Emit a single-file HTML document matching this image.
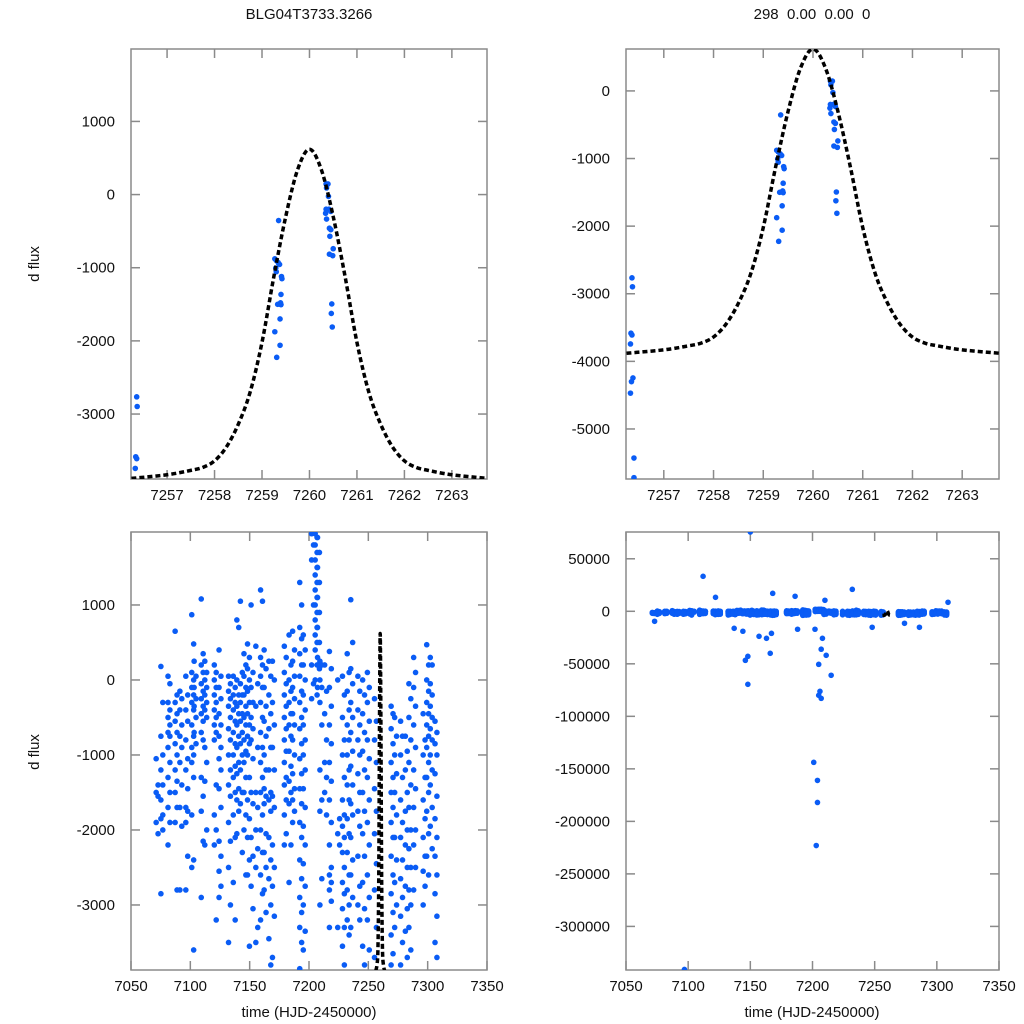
<!DOCTYPE html>
<html><head><meta charset="utf-8"><style>
html,body{margin:0;padding:0;background:#fff;width:1024px;height:1024px;overflow:hidden}
svg{display:block}
svg text{font-family:"Liberation Sans",Arial,sans-serif;font-size:15px;fill:#111}
</style></head><body>
<svg id="chart" width="1024" height="1024" viewBox="0 0 1024 1024" xmlns="http://www.w3.org/2000/svg">
<text x="309" y="19" text-anchor="middle">BLG04T3733.3266</text>
<text x="812" y="19" text-anchor="middle" xml:space="preserve">298  0.00  0.00  0</text>
<text transform="translate(39,264) rotate(-90)" text-anchor="middle">d flux</text>
<text transform="translate(39,752) rotate(-90)" text-anchor="middle">d flux</text>
<text x="309" y="1017" text-anchor="middle">time (HJD-2450000)</text>
<text x="812" y="1017" text-anchor="middle">time (HJD-2450000)</text>
</svg>
<script>
// ---- data ----
const modelDt = [-3.75,-3,-2.5,-2.25,-2,-1.75,-1.5,-1.25,-1,-0.75,-0.5,-0.25,0,0.25,0.5,0.75,1,1.25,1.5,1.75,2,2.25,2.5,3,3.75];
const modelFlux = [-3880,-3830,-3770,-3730,-3640,-3450,-3140,-2700,-2020,-1120,-300,340,620,340,-300,-1120,-2020,-2700,-3140,-3450,-3640,-3730,-3770,-3830,-3880];
const modelT0 = 7260;
const zoomT = [7256.36,7256.37,7256.34,7256.33,7256.35,7256.33,7256.38,7256.36,7256.4,7256.4,
 7259.35,7259.27,7259.30,7259.34,7259.37,7259.29,7259.30,7259.41,7259.42,7259.40,7259.33,7259.39,7259.40,7259.38,7259.27,7259.38,7259.31,
 7260.35,7260.39,7260.36,7260.40,7260.35,7260.41,7260.34,7260.45,7260.36,7260.42,7260.45,7260.43,7260.50,7260.42,7260.49,7260.47,7260.46,7260.48];
const zoomFlux = [-2765,-2897,-3584,-3743,-4300,-4470,-4245,-3610,-5430,-5720,
 -355,-878,-900,-930,-955,-1005,-1055,-1120,-1150,-1365,-1500,-1480,-1505,-1700,-1875,-2060,-2225,
 145,145,90,-25,-200,-200,-255,-230,-335,-460,-480,-570,-740,-815,-835,-1495,-1625,-1810];
const colTimes = [7072,7076,7082,7088,7092,7097,7102,7104,7110,7113,7121,7125,7133,7137,7140,7143,7146,7149,7152,7156,7160,7163,7167,7170,7180,7184,7187,7193,7196,7203,7206,7208,7210,7214,7218,7225,7229,7233,7236,7242,7246,7250,7256,7270,7273,7278,7282,7285,7289,7297,7300,7303,7307];
const colFluxK = [
[-1.05,-1.4,-1.5,-1.55,-1.9,-2.05],
[0.18,-0.3,-0.75,-1.0,-1.2,-1.4,-1.6,-1.8,-1.85,-2.0,-2.85],
[0.05,-0.05,-0.3,-0.4,-0.5,-0.6,-0.7,-0.75,-0.9,-1.1,-1.3,-1.5,-1.7,-1.9,-2.2],
[0.65,-0.2,-0.3,-0.45,-0.55,-0.7,-0.85,-1.0,-1.2,-1.35,-1.5,-1.7,-1.9,-2.8],
[-0.15,-0.25,-0.4,-0.6,-0.75,-0.9,-1.1,-1.4,-1.7,-1.95,-2.8],
[0.05,-0.2,-0.4,-0.55,-0.8,-1.05,-1.2,-1.45,-1.7,-1.75,-1.9,-2.35,-2.8],
[0.87,0.48,0.1,0,-0.1,-0.2,-0.3,-0.4,-0.6,-0.75,-0.9,-1.0,-1.1,-1.3,-1.8,-2.4,-2.5,-3.6],
[0.25,0.05,-0.1,-0.25,-0.35,-0.5,-0.7,-0.85],
[1.08,0.35,0.2,0.1,-0.05,-0.15,-0.25,-0.35,-0.45,-0.55,-0.7,-0.8,-1.3,-1.55,-1.75,-2.15,-2.9],
[0.25,0.1,0,-0.1,-0.2,-0.3,-0.4,-0.5,-0.9,-1.1,-1.35,-2.0,-2.2],
[0.2,0.1,0,-0.1,-0.2,-0.3,-0.4,-0.5,-0.6,-0.7,-0.8,-1.4,-1.8,-2.0,-2.2,-3.2],
[0.4,0.05,-0.1,-0.25,-0.45,-0.6,-0.75,-0.9,-1.05,-1.2,-1.45,-1.7,-2.15,-2.35,-2.55,-2.75,-2.9],
[0.05,-0.05,-0.15,-0.25,-0.35,-0.5,-0.65,-0.8,-1.0,-1.2,-1.4,-1.55,-1.9,-2.15,-2.5,-3.0,-3.5],
[0.05,-0.1,-0.2,-0.3,-0.4,-0.55,-0.7,-0.85,-1.0,-1.15,-1.3,-1.5,-1.8,-2.1,-2.7,-3.2],
[0.8,0.7,0,-0.2,-0.35,-0.45,-0.6,-0.75,-0.9,-1.1,-1.25,-1.45,-1.6,-1.75,-2.05],
[1.05,0.1,-0.05,-0.2,-0.3,-0.45,-0.55,-0.7,-0.85,-1.0,-1.2,-1.5,-1.65,-2.3],
[0.35,0.2,0.05,-0.1,-0.2,-0.35,-0.5,-0.6,-0.8,-0.95,-1.1,-1.3,-1.5,-1.8,-2.0,-2.6],
[0.48,0.3,0.15,0,-0.15,-0.3,-0.45,-0.6,-0.75,-0.85,-1.0,-1.3,-1.6,-1.85,-2.1,-2.4,-2.6,-3.55],
[1.0,0.1,-0.1,-0.3,-0.5,-0.65,-0.8,-1.05,-1.5,-1.65,-2.1,-2.35,-2.75,-3.05],
[0.45,-0.05,-0.35,-0.9,-1.5,-1.7,-2.0,-2.25,-2.5,-3.3,-3.5],
[1.2,1.05,0.3,0.2,0.05,-0.1,-0.3,-0.5,-0.7,-0.9,-1.1,-1.3,-1.5,-1.8,-2.0,-2.3,-2.6,-2.85,-3.2],
[0.4,0.15,-0.1,-0.35,-0.55,-0.75,-1.0,-1.2,-1.45,-1.55,-1.65,-2.05,-2.3,-2.5,-2.8,-3.1],
[0.25,0.05,-0.2,-0.45,-0.65,-0.9,-1.2,-1.5,-1.6,-1.75,-2.1,-2.4,-2.65,-3.0,-3.45,-3.8],
[0.25,0.0,-0.3,-0.6,-0.9,-1.2,-1.55,-1.7,-2.2,-2.5,-2.75,-3.15,-3.7],
[0.45,0.3,0.1,-0.05,-0.2,-0.35,-0.5,-0.65,-0.8,-0.95,-1.1,-1.3,-1.4,-1.6,-1.8,-2.05,-2.2],
[0.6,0.2,0.0,-0.15,-0.3,-0.45,-0.6,-0.75,-0.95,-1.15,-1.35,-1.5,-1.65,-2.2,-2.7],
[0.65,0.4,0.25,0.05,-0.1,-0.25,-0.45,-0.6,-0.8,-1.0,-1.25,-1.45,-1.6,-1.75,-1.9],
[1.3,1.0,0.7,0.55,0.35,0.2,0.05,-0.15,-0.3,-0.5,-0.65,-0.85,-1.05,-1.25,-1.45,-1.65,-1.9,-2.1,-2.4,-2.65,-2.9,-3.1,-3.3,-3.5,-3.85],
[0.6,0.4,0.2,0,-0.2,-0.4,-0.6,-0.8,-1.0,-1.2,-1.45,-1.7,-1.95,-2.2,-2.45,-2.75,-3.0,-3.35,-3.6],
[1.95,1.8,1.6,1.0,0.2,-0.05,-0.25],
[1.95,1.9,1.8,1.7,1.6,1.5,1.4,1.3,1.2,1.1,1.0,0.9,0.8,0.7,0.6,0.5,0.4,0.2,0.0,-0.2],
[1.9,1.7,1.5,1.3,1.1,0.9,0.7,0.5,0.3,0.15,-0.1],
[0.25,0.2,0,-0.1,-0.3,-0.6,-1.2,-1.6,-1.75,-2.65,-3.0],
[0.2,-0.15,-0.45,-0.8,-1.1,-1.3,-1.5,-1.8],
[0.38,0.15,-0.1,-0.35,-0.6,-0.85,-1.1,-1.35,-1.6,-1.9,-2.2,-2.5,-2.6,-2.7,-2.8,-2.95,-3.3],
[0.0,-1.85,-2.05,-2.2,-3.3],
[0.05,-0.2,-0.5,-0.8,-1.0,-1.3,-1.6,-1.8,-1.95,-2.1,-2.3,-2.5,-2.7,-2.85,-3.05,-3.3,-3.55,-3.8],
[0.35,0.1,-0.15,-0.4,-0.6,-0.8,-1.0,-1.2,-1.4,-1.6,-1.85,-2.05,-2.3,-2.6,-2.8,-3.0,-3.2,-3.4],
[1.07,0.5,0.15,-0.05,-0.3,-0.5,-0.7,-0.95,-1.15,-1.4,-1.65,-1.8,-2.1,-2.4,-2.6,-2.9,-3.3],
[0.05,-0.15,-0.4,-0.6,-0.8,-1.0,-1.25,-1.5,-1.75,-1.95,-2.35,-2.75,-3.0,-3.2],
[0.0,-0.2,-0.45,-0.7,-0.95,-1.2,-1.5,-1.75,-2.05,-2.35,-2.7,-3.05,-3.55,-3.8],
[0.1,-0.1,-0.3,-0.55,-0.8,-1.05,-1.3,-1.6,-1.9,-2.2,-2.6,-2.9,-3.2,-3.6],
[-0.25,-0.55,-0.8,-1.1,-1.45,-1.75,-2.05,-2.45,-2.8,-3.3,-3.7],
[-0.35,-0.45,-0.65,-0.85,-1.1,-1.3,-1.5,-1.7,-1.9,-2.1,-2.35,-2.6,-2.85,-3.1,-3.4,-3.65,-3.8],
[-0.5,-0.75,-1.0,-1.25,-1.5,-1.8,-2.1,-2.4,-2.7,-3.0,-3.3],
[-0.55,-0.75,-1.0,-1.3,-1.6,-1.9,-2.1,-2.4,-2.65,-2.9,-3.15,-3.5,-3.8],
[-0.75,-0.95,-1.2,-1.5,-1.75,-2.0,-2.2,-2.5,-2.75,-3.05,-3.35,-3.7],
[-0.05,-0.25,-0.5,-0.8,-1.1,-1.4,-1.7,-2.0,-2.25,-2.5,-2.8,-3.0,-3.3,-3.6],
[0.3,0.1,-0.1,-0.35,-0.6,-0.9,-1.2,-1.45,-1.7,-2.0,-2.2,-2.5,-2.8],
[-0.45,-0.8,-1.0,-1.3,-1.6,-1.85,-2.1,-2.35,-2.55,-2.75,-3.0],
[0.47,0.2,0.0,-0.15,-0.3,-0.45,-0.6,-0.75,-0.9,-1.1,-1.3,-1.5,-1.75,-2.05,-2.35,-2.6],
[0.3,0.2,-0.05,-0.2,-0.35,-0.5,-0.65,-0.8,-1.0,-1.2,-1.4,-1.7,-1.95,-2.25],
[-0.55,-0.7,-0.85,-1.0,-1.25,-1.55,-1.85,-2.1,-2.35,-2.6,-2.85,-3.15,-3.5,-3.7]
];
const outT = [7150,7112,7232,7309,7122,7168,7186,7210,7137,7144,7157,7163,7166,7167,7146,7148,7148,7188,7202,7208,7207,7211,7205,7215,7206,7205,7207,7248,7274,7286,7073,7201,7204,7204,7203,7097];
const outFlux = [75500,33300,20900,8600,13300,17100,14300,10500,-16200,-19000,-23800,-25700,-40000,-21000,-46700,-42900,-69500,-17100,-17100,-25700,-36100,-41900,-50500,-60900,-76200,-80000,-82900,-15200,-11400,-15200,-9500,-143800,-161000,-182000,-223000,-341000];
const ticksTopX = [7257,7258,7259,7260,7261,7262,7263];
const ticksTopLeftY = [1000,0,-1000,-2000,-3000];
const ticksTopRightY = [0,-1000,-2000,-3000,-4000,-5000];
const ticksBotX = [7050,7100,7150,7200,7250,7300,7350];
const ticksBotLeftY = [1000,0,-1000,-2000,-3000];
const ticksBotRightY = [50000,0,-50000,-100000,-150000,-200000,-250000,-300000];

const NS = "http://www.w3.org/2000/svg";
const svg = document.getElementById("chart");
function mk(tag, attrs, parent){const e=document.createElementNS(NS,tag);for(const k in attrs)e.setAttribute(k,attrs[k]);(parent||svg).appendChild(e);return e;}

function panel(id, box, xd, yd, xt, yt){
  const g = mk("g",{});
  
  
  const sx = v => box.x0 + (v - xd[0]) / (xd[1] - xd[0]) * (box.x1 - box.x0);
  const sy = v => box.y1 - (v - yd[0]) / (yd[1] - yd[0]) * (box.y1 - box.y0);
  const cp = mk("clipPath",{id:"clip-"+id},g);
  mk("rect",{x:box.x0,y:box.y0,width:box.x1-box.x0,height:box.y1-box.y0},cp);
  const frame = mk("rect",{x:box.x0,y:box.y0,width:box.x1-box.x0,height:box.y1-box.y0,fill:"none",stroke:"#8a8a8a","stroke-width":1.5},g);
  
  
  xt.forEach(v=>{
    const x=sx(v);
    mk("line",{x1:x,x2:x,y1:box.y1,y2:box.y1-9,stroke:"#8a8a8a","stroke-width":1.5},g);
    mk("line",{x1:x,x2:x,y1:box.y0,y2:box.y0+9,stroke:"#8a8a8a","stroke-width":1.5},g);
    const t=mk("text",{x:x,y:box.y1+21,"text-anchor":"middle"},g);
    
    
    t.textContent=v;
  });
  yt.forEach(v=>{
    const y=sy(v);
    mk("line",{x1:box.x0,x2:box.x0+9,y1:y,y2:y,stroke:"#8a8a8a","stroke-width":1.5},g);
    mk("line",{x1:box.x1,x2:box.x1-9,y1:y,y2:y,stroke:"#8a8a8a","stroke-width":1.5},g);
    const t=mk("text",{x:box.x0-16,y:y+5,"text-anchor":"end"},g);
    
    
    t.textContent=v;
  });
  const data = mk("g",{"clip-path":"url(#clip-"+id+")"},g);
  return {sx, sy, data};
}

function drawModel(p, name){
  const P = modelDt.map((d,i)=>[p.sx(modelT0+d), p.sy(modelFlux[i])]);
  let d = "M"+P[0][0].toFixed(2)+","+P[0][1].toFixed(2);
  for(let i=0;i<P.length-1;i++){
    const p0=P[Math.max(i-1,0)], p1=P[i], p2=P[i+1], p3=P[Math.min(i+2,P.length-1)];
    const c1=[p1[0]+(p2[0]-p0[0])/6, p1[1]+(p2[1]-p0[1])/6];
    const c2=[p2[0]-(p3[0]-p1[0])/6, p2[1]-(p3[1]-p1[1])/6];
    d += " C"+c1[0].toFixed(2)+","+c1[1].toFixed(2)+" "+c2[0].toFixed(2)+","+c2[1].toFixed(2)+" "+p2[0].toFixed(2)+","+p2[1].toFixed(2);
  }
  const pl = mk("path",{d:d,fill:"none",stroke:"#000","stroke-width":3.5,"stroke-dasharray":"5,3"},p.data);
  
  
}
function dot(p, t, f){
  const c = mk("circle",{cx:p.sx(t).toFixed(2),cy:p.sy(f).toFixed(2),r:2.8,fill:"#0a5cf5"},p.data);
  
  
}
function drawAll(p){
  colTimes.forEach((t,i)=>colFluxK[i].forEach((f,j)=>dot(p, t + (j%2 ? 0.8 : -0.8), f*1000)));
  outT.forEach((t,i)=>dot(p,t,outFlux[i]));
}

const pTL = panel("panel-zoom-left",{x0:131,x1:487,y0:49,y1:479},[7256.24,7263.74],[-3888,1990],ticksTopX,ticksTopLeftY);
const pTR = panel("panel-zoom-right",{x0:626,x1:999,y0:49,y1:479},[7256.24,7263.74],[-5740,620],ticksTopX,ticksTopRightY);
const pBL = panel("panel-full-left",{x0:131,x1:487,y0:532,y1:970},[7050,7350],[-3867,1973],ticksBotX,ticksBotLeftY);
const pBR = panel("panel-full-right",{x0:626,x1:999,y0:532,y1:970},[7050,7350],[-341500,75500],ticksBotX,ticksBotRightY);

zoomT.forEach((t,i)=>{dot(pTL,t,zoomFlux[i]);dot(pTR,t,zoomFlux[i]);});
drawModel(pTL,"model-curve-left");
drawModel(pTR,"model-curve-right");
drawAll(pBL); drawAll(pBR);
drawModel(pBL,"model-curve-full-left");
drawModel(pBR,"model-curve-full-right");
</script>
</body></html>
